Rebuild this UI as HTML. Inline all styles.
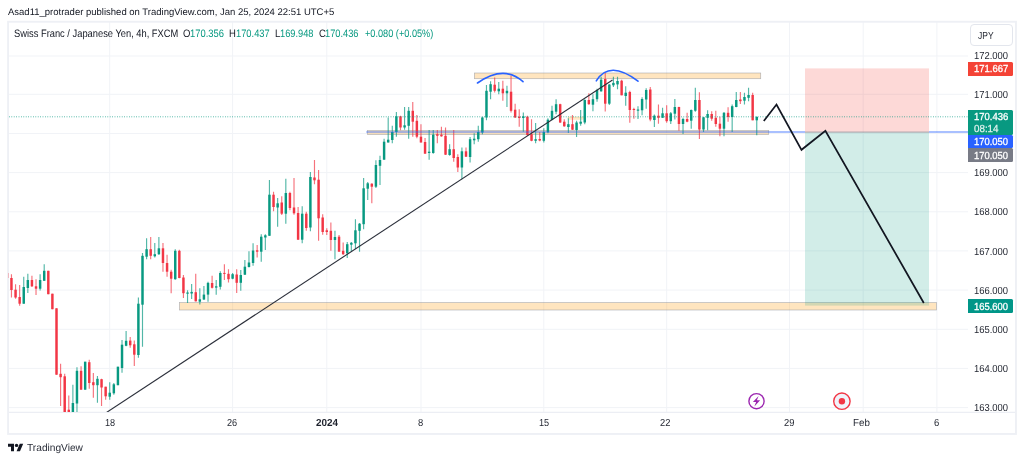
<!DOCTYPE html>
<html lang="en"><head><meta charset="utf-8"><title>CHFJPY chart</title>
<style>
html,body{margin:0;padding:0;background:#fff}
body{width:1024px;height:462px;position:relative;overflow:hidden;font-family:"Liberation Sans",Arial,sans-serif;color:#131722;text-rendering:geometricPrecision}
.t{position:absolute;line-height:11px;height:11px;white-space:nowrap;transform-origin:0 0}
#chart{position:absolute;left:0;top:0}
.tag{position:absolute;left:968px;width:44.8px;border-radius:0 1.5px 1.5px 0}
#cur{position:absolute;left:970.4px;top:24.3px;width:42.2px;height:21.3px;border:1px solid #e3e6ed;border-radius:4px;box-sizing:border-box;background:#fff}
</style></head><body>
<svg id="chart" width="1024" height="462" viewBox="0 0 1024 462">
<defs><clipPath id="cp"><rect x="8.5" y="22" width="959.5" height="390"/></clipPath></defs>

<g stroke="#f1f3f7" stroke-width="1">
<line x1="109.7" y1="22" x2="109.7" y2="412"/>
<line x1="232.6" y1="22" x2="232.6" y2="412"/>
<line x1="326.8" y1="22" x2="326.8" y2="412"/>
<line x1="421.0" y1="22" x2="421.0" y2="412"/>
<line x1="543.8" y1="22" x2="543.8" y2="412"/>
<line x1="666.7" y1="22" x2="666.7" y2="412"/>
<line x1="789.5" y1="22" x2="789.5" y2="412"/>
<line x1="863.2" y1="22" x2="863.2" y2="412"/>
<line x1="936.9" y1="22" x2="936.9" y2="412"/>
<line x1="9" y1="407.6" x2="968" y2="407.6"/>
<line x1="9" y1="368.4" x2="968" y2="368.4"/>
<line x1="9" y1="329.3" x2="968" y2="329.3"/>
<line x1="9" y1="290.1" x2="968" y2="290.1"/>
<line x1="9" y1="250.9" x2="968" y2="250.9"/>
<line x1="9" y1="211.8" x2="968" y2="211.8"/>
<line x1="9" y1="172.6" x2="968" y2="172.6"/>
<line x1="9" y1="133.5" x2="968" y2="133.5"/>
<line x1="9" y1="94.3" x2="968" y2="94.3"/>
<line x1="9" y1="56.0" x2="968" y2="56.0"/>
</g>
<line x1="9" y1="412.45" x2="1015" y2="412.45" stroke="#eceef4" stroke-width="1.3"/>
<rect x="8.08" y="21.75" width="1007.9" height="412.2" fill="none" stroke="#eef0f5" stroke-width="1.9"/>
<g clip-path="url(#cp)">
<rect x="179.5" y="302.6" width="757" height="7.4" fill="#ff9800" fill-opacity="0.25" stroke="#9598a1" stroke-opacity="0.7" stroke-width="0.7"/>
<rect x="474.4" y="73" width="286.3" height="5.7" fill="#ff9800" fill-opacity="0.25" stroke="#9598a1" stroke-opacity="0.7" stroke-width="0.7"/>
<rect x="367.3" y="130.55" width="401.4" height="4.0" fill="#ff9800" fill-opacity="0.25" stroke="#9598a1" stroke-opacity="0.7" stroke-width="0.7"/>
<rect x="568" y="117" width="15.3" height="2.2" fill="#ff9800" fill-opacity="0.2" stroke="#ff9800" stroke-opacity="0.3" stroke-width="0.5"/>
<path d="M7.36 272.0V280.0" stroke="#f23645" stroke-width="1.15" stroke-opacity="0.7"/><rect x="6.14" y="273.0" width="2.45" height="5.0" fill="#f23645"/>
<path d="M11.46 274.2V297.5" stroke="#f23645" stroke-width="1.15" stroke-opacity="0.7"/><rect x="10.23" y="278.0" width="2.45" height="12.0" fill="#f23645"/>
<path d="M15.55 284.2V298.8" stroke="#f23645" stroke-width="1.15" stroke-opacity="0.7"/><rect x="14.33" y="289.7" width="2.45" height="7.8" fill="#f23645"/>
<path d="M19.64 285.0V305.8" stroke="#f23645" stroke-width="1.15" stroke-opacity="0.7"/><rect x="18.43" y="297.0" width="2.45" height="6.7" fill="#f23645"/>
<path d="M23.74 276.7V303.7" stroke="#089981" stroke-width="1.15" stroke-opacity="0.7"/><rect x="22.52" y="287.0" width="2.45" height="16.7" fill="#089981"/>
<path d="M27.83 273.7V293.0" stroke="#089981" stroke-width="1.15" stroke-opacity="0.7"/><rect x="26.61" y="280.0" width="2.45" height="8.0" fill="#089981"/>
<path d="M31.93 275.8V287.0" stroke="#f23645" stroke-width="1.15" stroke-opacity="0.7"/><rect x="30.71" y="280.0" width="2.45" height="6.3" fill="#f23645"/>
<path d="M36.02 279.2V295.0" stroke="#f23645" stroke-width="1.15" stroke-opacity="0.7"/><rect x="34.80" y="286.3" width="2.45" height="2.4" fill="#f23645"/>
<path d="M40.12 274.2V290.5" stroke="#089981" stroke-width="1.15" stroke-opacity="0.7"/><rect x="38.90" y="280.0" width="2.45" height="8.7" fill="#089981"/>
<path d="M44.21 264.2V280.8" stroke="#089981" stroke-width="1.15" stroke-opacity="0.7"/><rect x="42.99" y="270.8" width="2.45" height="10.0" fill="#089981"/>
<path d="M48.31 270.8V294.2" stroke="#f23645" stroke-width="1.15" stroke-opacity="0.7"/><rect x="47.09" y="270.8" width="2.45" height="23.4" fill="#f23645"/>
<path d="M52.40 293.7V309.2" stroke="#f23645" stroke-width="1.15" stroke-opacity="0.7"/><rect x="51.18" y="293.7" width="2.45" height="15.5" fill="#f23645"/>
<path d="M56.50 308.3V374.7" stroke="#f23645" stroke-width="1.15" stroke-opacity="0.7"/><rect x="55.28" y="308.3" width="2.45" height="66.4" fill="#f23645"/>
<path d="M60.59 363.8V406.0" stroke="#f23645" stroke-width="1.15" stroke-opacity="0.7"/><rect x="59.38" y="373.8" width="2.45" height="3.4" fill="#f23645"/>
<path d="M64.69 373.8V413.0" stroke="#f23645" stroke-width="1.15" stroke-opacity="0.7"/><rect x="63.47" y="376.3" width="2.45" height="36.7" fill="#f23645"/>
<path d="M68.78 395.5V413.0" stroke="#f23645" stroke-width="1.15" stroke-opacity="0.7"/><rect x="67.56" y="409.7" width="2.45" height="3.3" fill="#f23645"/>
<path d="M72.88 384.7V413.0" stroke="#089981" stroke-width="1.15" stroke-opacity="0.7"/><rect x="71.66" y="403.0" width="2.45" height="10.0" fill="#089981"/>
<path d="M76.97 367.2V413.0" stroke="#089981" stroke-width="1.15" stroke-opacity="0.7"/><rect x="75.75" y="370.8" width="2.45" height="32.7" fill="#089981"/>
<path d="M81.07 366.3V389.7" stroke="#f23645" stroke-width="1.15" stroke-opacity="0.7"/><rect x="79.85" y="370.8" width="2.45" height="18.9" fill="#f23645"/>
<path d="M85.16 361.7V389.7" stroke="#089981" stroke-width="1.15" stroke-opacity="0.7"/><rect x="83.94" y="361.7" width="2.45" height="28.0" fill="#089981"/>
<path d="M89.26 359.7V388.8" stroke="#f23645" stroke-width="1.15" stroke-opacity="0.7"/><rect x="88.04" y="362.2" width="2.45" height="20.8" fill="#f23645"/>
<path d="M93.35 373.0V397.7" stroke="#f23645" stroke-width="1.15" stroke-opacity="0.7"/><rect x="92.13" y="382.2" width="2.45" height="3.0" fill="#f23645"/>
<path d="M97.45 376.0V402.7" stroke="#089981" stroke-width="1.15" stroke-opacity="0.7"/><rect x="96.23" y="378.8" width="2.45" height="6.4" fill="#089981"/>
<path d="M101.54 378.8V406.0" stroke="#f23645" stroke-width="1.15" stroke-opacity="0.7"/><rect x="100.32" y="379.2" width="2.45" height="8.3" fill="#f23645"/>
<path d="M105.64 386.7V399.7" stroke="#f23645" stroke-width="1.15" stroke-opacity="0.7"/><rect x="104.42" y="386.7" width="2.45" height="9.6" fill="#f23645"/>
<path d="M109.73 382.2V399.7" stroke="#089981" stroke-width="1.15" stroke-opacity="0.7"/><rect x="108.52" y="392.7" width="2.45" height="4.0" fill="#089981"/>
<path d="M113.83 383.0V394.7" stroke="#089981" stroke-width="1.15" stroke-opacity="0.7"/><rect x="112.61" y="384.3" width="2.45" height="9.0" fill="#089981"/>
<path d="M117.92 366.7V385.2" stroke="#089981" stroke-width="1.15" stroke-opacity="0.7"/><rect x="116.70" y="366.7" width="2.45" height="18.5" fill="#089981"/>
<path d="M122.02 340.0V372.7" stroke="#089981" stroke-width="1.15" stroke-opacity="0.7"/><rect x="120.80" y="344.7" width="2.45" height="23.3" fill="#089981"/>
<path d="M126.11 331.0V346.2" stroke="#089981" stroke-width="1.15" stroke-opacity="0.7"/><rect x="124.89" y="340.8" width="2.45" height="5.0" fill="#089981"/>
<path d="M130.21 336.9V347.7" stroke="#f23645" stroke-width="1.15" stroke-opacity="0.7"/><rect x="128.99" y="340.6" width="2.45" height="4.7" fill="#f23645"/>
<path d="M134.31 340.5V366.0" stroke="#f23645" stroke-width="1.15" stroke-opacity="0.7"/><rect x="133.09" y="344.3" width="2.45" height="10.4" fill="#f23645"/>
<path d="M138.40 297.5V357.7" stroke="#089981" stroke-width="1.15" stroke-opacity="0.7"/><rect x="137.18" y="303.7" width="2.45" height="51.3" fill="#089981"/>
<path d="M142.50 253.0V346.7" stroke="#089981" stroke-width="1.15" stroke-opacity="0.7"/><rect x="141.28" y="255.8" width="2.45" height="48.9" fill="#089981"/>
<path d="M146.59 238.3V259.2" stroke="#089981" stroke-width="1.15" stroke-opacity="0.7"/><rect x="145.37" y="249.2" width="2.45" height="7.5" fill="#089981"/>
<path d="M150.69 237.0V259.2" stroke="#f23645" stroke-width="1.15" stroke-opacity="0.7"/><rect x="149.47" y="249.2" width="2.45" height="6.6" fill="#f23645"/>
<path d="M154.78 243.0V257.5" stroke="#089981" stroke-width="1.15" stroke-opacity="0.7"/><rect x="153.56" y="254.2" width="2.45" height="2.1" fill="#089981"/>
<path d="M158.88 237.0V255.0" stroke="#089981" stroke-width="1.15" stroke-opacity="0.7"/><rect x="157.66" y="248.3" width="2.45" height="5.9" fill="#089981"/>
<path d="M162.97 243.0V271.7" stroke="#f23645" stroke-width="1.15" stroke-opacity="0.7"/><rect x="161.75" y="248.3" width="2.45" height="14.7" fill="#f23645"/>
<path d="M167.06 254.7V276.7" stroke="#f23645" stroke-width="1.15" stroke-opacity="0.7"/><rect x="165.84" y="263.0" width="2.45" height="8.7" fill="#f23645"/>
<path d="M171.16 269.7V293.3" stroke="#f23645" stroke-width="1.15" stroke-opacity="0.7"/><rect x="169.94" y="271.7" width="2.45" height="7.0" fill="#f23645"/>
<path d="M175.25 249.2V279.7" stroke="#089981" stroke-width="1.15" stroke-opacity="0.7"/><rect x="174.03" y="250.8" width="2.45" height="28.4" fill="#089981"/>
<path d="M179.35 249.7V278.3" stroke="#f23645" stroke-width="1.15" stroke-opacity="0.7"/><rect x="178.13" y="250.8" width="2.45" height="27.2" fill="#f23645"/>
<path d="M183.44 275.0V298.1" stroke="#f23645" stroke-width="1.15" stroke-opacity="0.7"/><rect x="182.22" y="277.5" width="2.45" height="15.7" fill="#f23645"/>
<path d="M187.54 290.3V302.9" stroke="#089981" stroke-width="1.15" stroke-opacity="0.7"/><rect x="186.32" y="292.5" width="2.45" height="1.2" fill="#089981"/>
<path d="M191.63 284.1V299.0" stroke="#089981" stroke-width="1.15" stroke-opacity="0.7"/><rect x="190.41" y="291.9" width="2.45" height="1.6" fill="#089981"/>
<path d="M195.73 273.7V301.5" stroke="#f23645" stroke-width="1.15" stroke-opacity="0.7"/><rect x="194.51" y="292.2" width="2.45" height="9.1" fill="#f23645"/>
<path d="M199.82 288.3V304.4" stroke="#089981" stroke-width="1.15" stroke-opacity="0.7"/><rect x="198.60" y="299.3" width="2.45" height="2.4" fill="#089981"/>
<path d="M203.92 285.9V300.0" stroke="#089981" stroke-width="1.15" stroke-opacity="0.7"/><rect x="202.70" y="294.6" width="2.45" height="4.9" fill="#089981"/>
<path d="M208.02 281.8V301.7" stroke="#089981" stroke-width="1.15" stroke-opacity="0.7"/><rect x="206.80" y="282.9" width="2.45" height="11.7" fill="#089981"/>
<path d="M212.11 275.8V288.6" stroke="#f23645" stroke-width="1.15" stroke-opacity="0.7"/><rect x="210.89" y="283.0" width="2.45" height="4.8" fill="#f23645"/>
<path d="M216.21 280.0V294.8" stroke="#089981" stroke-width="1.15" stroke-opacity="0.7"/><rect x="214.99" y="286.3" width="2.45" height="1.3" fill="#089981"/>
<path d="M220.30 271.3V289.6" stroke="#089981" stroke-width="1.15" stroke-opacity="0.7"/><rect x="219.08" y="273.0" width="2.45" height="13.8" fill="#089981"/>
<path d="M224.40 264.2V280.0" stroke="#f23645" stroke-width="1.15" stroke-opacity="0.7"/><rect x="223.18" y="272.9" width="2.45" height="1.0" fill="#f23645"/>
<path d="M228.49 269.2V282.5" stroke="#f23645" stroke-width="1.15" stroke-opacity="0.7"/><rect x="227.27" y="273.8" width="2.45" height="5.4" fill="#f23645"/>
<path d="M232.59 273.0V279.2" stroke="#089981" stroke-width="1.15" stroke-opacity="0.7"/><rect x="231.37" y="274.2" width="2.45" height="4.5" fill="#089981"/>
<path d="M236.68 269.2V293.0" stroke="#f23645" stroke-width="1.15" stroke-opacity="0.7"/><rect x="235.46" y="274.5" width="2.45" height="8.3" fill="#f23645"/>
<path d="M240.78 270.0V290.8" stroke="#089981" stroke-width="1.15" stroke-opacity="0.7"/><rect x="239.56" y="275.0" width="2.45" height="7.8" fill="#089981"/>
<path d="M244.87 260.0V275.0" stroke="#089981" stroke-width="1.15" stroke-opacity="0.7"/><rect x="243.65" y="266.7" width="2.45" height="8.0" fill="#089981"/>
<path d="M248.97 251.3V267.5" stroke="#089981" stroke-width="1.15" stroke-opacity="0.7"/><rect x="247.75" y="262.5" width="2.45" height="4.5" fill="#089981"/>
<path d="M253.06 243.3V265.8" stroke="#089981" stroke-width="1.15" stroke-opacity="0.7"/><rect x="251.84" y="250.5" width="2.45" height="12.5" fill="#089981"/>
<path d="M257.15 245.0V257.5" stroke="#f23645" stroke-width="1.15" stroke-opacity="0.7"/><rect x="255.93" y="250.3" width="2.45" height="1.4" fill="#f23645"/>
<path d="M261.25 234.2V261.7" stroke="#089981" stroke-width="1.15" stroke-opacity="0.7"/><rect x="260.03" y="236.7" width="2.45" height="15.0" fill="#089981"/>
<path d="M265.34 234.2V250.0" stroke="#089981" stroke-width="1.15" stroke-opacity="0.7"/><rect x="264.12" y="235.3" width="2.45" height="2.2" fill="#089981"/>
<path d="M269.44 180.0V235.8" stroke="#089981" stroke-width="1.15" stroke-opacity="0.7"/><rect x="268.22" y="194.7" width="2.45" height="41.1" fill="#089981"/>
<path d="M273.54 191.7V211.3" stroke="#f23645" stroke-width="1.15" stroke-opacity="0.7"/><rect x="272.31" y="194.7" width="2.45" height="12.3" fill="#f23645"/>
<path d="M277.63 198.0V226.7" stroke="#089981" stroke-width="1.15" stroke-opacity="0.7"/><rect x="276.41" y="203.3" width="2.45" height="4.2" fill="#089981"/>
<path d="M281.73 196.3V215.0" stroke="#f23645" stroke-width="1.15" stroke-opacity="0.7"/><rect x="280.50" y="202.5" width="2.45" height="11.2" fill="#f23645"/>
<path d="M285.82 178.7V223.7" stroke="#089981" stroke-width="1.15" stroke-opacity="0.7"/><rect x="284.60" y="193.0" width="2.45" height="20.7" fill="#089981"/>
<path d="M289.92 191.7V210.3" stroke="#f23645" stroke-width="1.15" stroke-opacity="0.7"/><rect x="288.69" y="193.0" width="2.45" height="15.0" fill="#f23645"/>
<path d="M294.01 178.0V214.7" stroke="#f23645" stroke-width="1.15" stroke-opacity="0.7"/><rect x="292.79" y="207.5" width="2.45" height="5.8" fill="#f23645"/>
<path d="M298.11 207.0V240.0" stroke="#f23645" stroke-width="1.15" stroke-opacity="0.7"/><rect x="296.88" y="213.0" width="2.45" height="26.7" fill="#f23645"/>
<path d="M302.20 206.3V243.3" stroke="#089981" stroke-width="1.15" stroke-opacity="0.7"/><rect x="300.98" y="213.7" width="2.45" height="26.0" fill="#089981"/>
<path d="M306.30 211.7V230.8" stroke="#f23645" stroke-width="1.15" stroke-opacity="0.7"/><rect x="305.07" y="213.7" width="2.45" height="14.3" fill="#f23645"/>
<path d="M310.39 172.0V231.3" stroke="#089981" stroke-width="1.15" stroke-opacity="0.7"/><rect x="309.17" y="177.0" width="2.45" height="50.5" fill="#089981"/>
<path d="M314.49 160.0V184.2" stroke="#f23645" stroke-width="1.15" stroke-opacity="0.7"/><rect x="313.26" y="177.5" width="2.45" height="2.8" fill="#f23645"/>
<path d="M318.58 170.0V240.8" stroke="#f23645" stroke-width="1.15" stroke-opacity="0.7"/><rect x="317.36" y="179.7" width="2.45" height="38.6" fill="#f23645"/>
<path d="M322.68 214.2V234.7" stroke="#f23645" stroke-width="1.15" stroke-opacity="0.7"/><rect x="321.45" y="217.5" width="2.45" height="14.5" fill="#f23645"/>
<path d="M326.77 228.3V235.0" stroke="#f23645" stroke-width="1.15" stroke-opacity="0.7"/><rect x="325.55" y="230.3" width="2.45" height="1.7" fill="#f23645"/>
<path d="M330.87 222.5V250.8" stroke="#f23645" stroke-width="1.15" stroke-opacity="0.7"/><rect x="329.64" y="230.8" width="2.45" height="9.2" fill="#f23645"/>
<path d="M334.96 230.8V259.2" stroke="#089981" stroke-width="1.15" stroke-opacity="0.7"/><rect x="333.74" y="237.0" width="2.45" height="3.0" fill="#089981"/>
<path d="M339.06 235.0V251.7" stroke="#f23645" stroke-width="1.15" stroke-opacity="0.7"/><rect x="337.83" y="236.7" width="2.45" height="15.0" fill="#f23645"/>
<path d="M343.15 242.5V255.0" stroke="#f23645" stroke-width="1.15" stroke-opacity="0.7"/><rect x="341.93" y="250.8" width="2.45" height="3.4" fill="#f23645"/>
<path d="M347.25 242.0V258.0" stroke="#089981" stroke-width="1.15" stroke-opacity="0.7"/><rect x="346.02" y="244.2" width="2.45" height="9.1" fill="#089981"/>
<path d="M351.34 242.0V251.7" stroke="#089981" stroke-width="1.15" stroke-opacity="0.7"/><rect x="350.12" y="242.8" width="2.45" height="1.9" fill="#089981"/>
<path d="M355.44 219.2V249.2" stroke="#089981" stroke-width="1.15" stroke-opacity="0.7"/><rect x="354.21" y="230.3" width="2.45" height="13.0" fill="#089981"/>
<path d="M359.53 223.0V251.7" stroke="#089981" stroke-width="1.15" stroke-opacity="0.7"/><rect x="358.31" y="223.7" width="2.45" height="7.1" fill="#089981"/>
<path d="M363.62 178.0V229.2" stroke="#089981" stroke-width="1.15" stroke-opacity="0.7"/><rect x="362.40" y="188.3" width="2.45" height="35.9" fill="#089981"/>
<path d="M367.72 182.0V200.0" stroke="#089981" stroke-width="1.15" stroke-opacity="0.7"/><rect x="366.50" y="183.3" width="2.45" height="5.4" fill="#089981"/>
<path d="M371.81 183.3V203.3" stroke="#f23645" stroke-width="1.15" stroke-opacity="0.7"/><rect x="370.59" y="183.7" width="2.45" height="3.0" fill="#f23645"/>
<path d="M375.91 160.3V188.0" stroke="#089981" stroke-width="1.15" stroke-opacity="0.7"/><rect x="374.69" y="165.0" width="2.45" height="21.7" fill="#089981"/>
<path d="M380.00 155.8V185.0" stroke="#089981" stroke-width="1.15" stroke-opacity="0.7"/><rect x="378.78" y="160.0" width="2.45" height="5.8" fill="#089981"/>
<path d="M384.10 138.7V159.7" stroke="#089981" stroke-width="1.15" stroke-opacity="0.7"/><rect x="382.88" y="141.7" width="2.45" height="18.0" fill="#089981"/>
<path d="M388.19 117.5V142.5" stroke="#089981" stroke-width="1.15" stroke-opacity="0.7"/><rect x="386.97" y="139.7" width="2.45" height="2.8" fill="#089981"/>
<path d="M392.29 125.8V143.3" stroke="#089981" stroke-width="1.15" stroke-opacity="0.7"/><rect x="391.07" y="132.0" width="2.45" height="8.0" fill="#089981"/>
<path d="M396.38 112.0V136.7" stroke="#089981" stroke-width="1.15" stroke-opacity="0.7"/><rect x="395.16" y="116.3" width="2.45" height="15.7" fill="#089981"/>
<path d="M400.48 115.8V130.3" stroke="#f23645" stroke-width="1.15" stroke-opacity="0.7"/><rect x="399.26" y="116.3" width="2.45" height="11.2" fill="#f23645"/>
<path d="M404.57 107.0V129.7" stroke="#089981" stroke-width="1.15" stroke-opacity="0.7"/><rect x="403.35" y="125.3" width="2.45" height="2.2" fill="#089981"/>
<path d="M408.67 107.0V138.7" stroke="#089981" stroke-width="1.15" stroke-opacity="0.7"/><rect x="407.45" y="110.8" width="2.45" height="15.0" fill="#089981"/>
<path d="M412.76 102.0V136.7" stroke="#f23645" stroke-width="1.15" stroke-opacity="0.7"/><rect x="411.54" y="110.8" width="2.45" height="10.9" fill="#f23645"/>
<path d="M416.86 115.0V138.3" stroke="#f23645" stroke-width="1.15" stroke-opacity="0.7"/><rect x="415.64" y="120.8" width="2.45" height="15.9" fill="#f23645"/>
<path d="M420.95 124.2V142.5" stroke="#f23645" stroke-width="1.15" stroke-opacity="0.7"/><rect x="419.73" y="136.7" width="2.45" height="5.8" fill="#f23645"/>
<path d="M425.05 138.0V153.7" stroke="#f23645" stroke-width="1.15" stroke-opacity="0.7"/><rect x="423.83" y="142.0" width="2.45" height="11.7" fill="#f23645"/>
<path d="M429.14 130.0V159.7" stroke="#089981" stroke-width="1.15" stroke-opacity="0.7"/><rect x="427.92" y="151.7" width="2.45" height="1.3" fill="#089981"/>
<path d="M433.24 130.0V153.7" stroke="#089981" stroke-width="1.15" stroke-opacity="0.7"/><rect x="432.02" y="134.7" width="2.45" height="18.3" fill="#089981"/>
<path d="M437.33 130.0V143.3" stroke="#f23645" stroke-width="1.15" stroke-opacity="0.7"/><rect x="436.11" y="134.2" width="2.45" height="1.6" fill="#f23645"/>
<path d="M441.43 126.7V136.7" stroke="#f23645" stroke-width="1.15" stroke-opacity="0.7"/><rect x="440.21" y="134.7" width="2.45" height="1.6" fill="#f23645"/>
<path d="M445.52 127.5V155.0" stroke="#f23645" stroke-width="1.15" stroke-opacity="0.7"/><rect x="444.30" y="135.8" width="2.45" height="18.9" fill="#f23645"/>
<path d="M449.62 144.2V155.8" stroke="#089981" stroke-width="1.15" stroke-opacity="0.7"/><rect x="448.40" y="149.2" width="2.45" height="5.8" fill="#089981"/>
<path d="M453.71 130.0V161.7" stroke="#f23645" stroke-width="1.15" stroke-opacity="0.7"/><rect x="452.49" y="149.2" width="2.45" height="8.8" fill="#f23645"/>
<path d="M457.81 154.2V172.0" stroke="#f23645" stroke-width="1.15" stroke-opacity="0.7"/><rect x="456.59" y="157.0" width="2.45" height="10.5" fill="#f23645"/>
<path d="M461.90 147.5V179.2" stroke="#089981" stroke-width="1.15" stroke-opacity="0.7"/><rect x="460.68" y="151.3" width="2.45" height="16.2" fill="#089981"/>
<path d="M466.00 147.5V157.0" stroke="#f23645" stroke-width="1.15" stroke-opacity="0.7"/><rect x="464.78" y="151.3" width="2.45" height="5.4" fill="#f23645"/>
<path d="M470.09 137.0V162.5" stroke="#089981" stroke-width="1.15" stroke-opacity="0.7"/><rect x="468.87" y="139.2" width="2.45" height="17.8" fill="#089981"/>
<path d="M474.19 133.3V144.2" stroke="#089981" stroke-width="1.15" stroke-opacity="0.7"/><rect x="472.97" y="138.7" width="2.45" height="1.6" fill="#089981"/>
<path d="M478.28 125.8V141.7" stroke="#089981" stroke-width="1.15" stroke-opacity="0.7"/><rect x="477.06" y="132.0" width="2.45" height="7.2" fill="#089981"/>
<path d="M482.38 116.7V134.2" stroke="#089981" stroke-width="1.15" stroke-opacity="0.7"/><rect x="481.16" y="117.5" width="2.45" height="15.0" fill="#089981"/>
<path d="M486.47 85.0V120.3" stroke="#089981" stroke-width="1.15" stroke-opacity="0.7"/><rect x="485.25" y="90.8" width="2.45" height="26.7" fill="#089981"/>
<path d="M490.57 81.3V99.2" stroke="#089981" stroke-width="1.15" stroke-opacity="0.7"/><rect x="489.35" y="84.2" width="2.45" height="7.5" fill="#089981"/>
<path d="M494.66 77.5V92.5" stroke="#f23645" stroke-width="1.15" stroke-opacity="0.7"/><rect x="493.44" y="84.7" width="2.45" height="6.1" fill="#f23645"/>
<path d="M498.76 82.0V94.2" stroke="#089981" stroke-width="1.15" stroke-opacity="0.7"/><rect x="497.54" y="88.7" width="2.45" height="2.6" fill="#089981"/>
<path d="M502.85 80.8V100.8" stroke="#f23645" stroke-width="1.15" stroke-opacity="0.7"/><rect x="501.63" y="88.7" width="2.45" height="4.6" fill="#f23645"/>
<path d="M506.95 85.8V107.0" stroke="#089981" stroke-width="1.15" stroke-opacity="0.7"/><rect x="505.73" y="90.8" width="2.45" height="2.5" fill="#089981"/>
<path d="M511.04 75.8V112.5" stroke="#f23645" stroke-width="1.15" stroke-opacity="0.7"/><rect x="509.82" y="91.7" width="2.45" height="19.1" fill="#f23645"/>
<path d="M515.14 103.7V118.0" stroke="#f23645" stroke-width="1.15" stroke-opacity="0.7"/><rect x="513.92" y="109.7" width="2.45" height="7.8" fill="#f23645"/>
<path d="M519.23 109.2V126.7" stroke="#f23645" stroke-width="1.15" stroke-opacity="0.7"/><rect x="518.01" y="116.7" width="2.45" height="1.3" fill="#f23645"/>
<path d="M523.33 112.5V131.7" stroke="#089981" stroke-width="1.15" stroke-opacity="0.7"/><rect x="522.11" y="116.3" width="2.45" height="1.7" fill="#089981"/>
<path d="M527.42 115.8V135.8" stroke="#f23645" stroke-width="1.15" stroke-opacity="0.7"/><rect x="526.20" y="116.7" width="2.45" height="18.3" fill="#f23645"/>
<path d="M531.52 119.2V141.3" stroke="#f23645" stroke-width="1.15" stroke-opacity="0.7"/><rect x="530.30" y="134.2" width="2.45" height="6.6" fill="#f23645"/>
<path d="M535.62 123.0V143.3" stroke="#089981" stroke-width="1.15" stroke-opacity="0.7"/><rect x="534.39" y="139.2" width="2.45" height="1.6" fill="#089981"/>
<path d="M539.71 132.0V141.3" stroke="#f23645" stroke-width="1.15" stroke-opacity="0.7"/><rect x="538.49" y="139.0" width="2.45" height="1.5" fill="#f23645"/>
<path d="M543.80 128.3V142.5" stroke="#089981" stroke-width="1.15" stroke-opacity="0.7"/><rect x="542.58" y="132.0" width="2.45" height="8.8" fill="#089981"/>
<path d="M547.90 118.3V133.3" stroke="#089981" stroke-width="1.15" stroke-opacity="0.7"/><rect x="546.68" y="119.7" width="2.45" height="12.6" fill="#089981"/>
<path d="M552.00 105.8V120.3" stroke="#089981" stroke-width="1.15" stroke-opacity="0.7"/><rect x="550.77" y="110.8" width="2.45" height="9.2" fill="#089981"/>
<path d="M556.09 99.2V114.2" stroke="#089981" stroke-width="1.15" stroke-opacity="0.7"/><rect x="554.87" y="104.2" width="2.45" height="7.5" fill="#089981"/>
<path d="M560.18 103.7V123.0" stroke="#f23645" stroke-width="1.15" stroke-opacity="0.7"/><rect x="558.96" y="104.2" width="2.45" height="18.3" fill="#f23645"/>
<path d="M564.28 119.2V126.7" stroke="#f23645" stroke-width="1.15" stroke-opacity="0.7"/><rect x="563.06" y="121.7" width="2.45" height="4.6" fill="#f23645"/>
<path d="M568.38 118.3V133.0" stroke="#089981" stroke-width="1.15" stroke-opacity="0.7"/><rect x="567.15" y="124.2" width="2.45" height="2.8" fill="#089981"/>
<path d="M572.47 115.0V130.0" stroke="#f23645" stroke-width="1.15" stroke-opacity="0.7"/><rect x="571.25" y="124.2" width="2.45" height="5.5" fill="#f23645"/>
<path d="M576.56 120.8V137.0" stroke="#089981" stroke-width="1.15" stroke-opacity="0.7"/><rect x="575.34" y="122.5" width="2.45" height="7.5" fill="#089981"/>
<path d="M580.66 110.0V125.8" stroke="#089981" stroke-width="1.15" stroke-opacity="0.7"/><rect x="579.44" y="121.7" width="2.45" height="2.0" fill="#089981"/>
<path d="M584.75 99.2V124.2" stroke="#089981" stroke-width="1.15" stroke-opacity="0.7"/><rect x="583.53" y="100.0" width="2.45" height="22.5" fill="#089981"/>
<path d="M588.85 93.3V104.7" stroke="#f23645" stroke-width="1.15" stroke-opacity="0.7"/><rect x="587.63" y="100.0" width="2.45" height="4.2" fill="#f23645"/>
<path d="M592.94 94.2V111.3" stroke="#089981" stroke-width="1.15" stroke-opacity="0.7"/><rect x="591.72" y="99.2" width="2.45" height="5.5" fill="#089981"/>
<path d="M597.04 88.7V101.7" stroke="#089981" stroke-width="1.15" stroke-opacity="0.7"/><rect x="595.82" y="90.0" width="2.45" height="9.2" fill="#089981"/>
<path d="M601.13 76.7V91.7" stroke="#089981" stroke-width="1.15" stroke-opacity="0.7"/><rect x="599.91" y="79.7" width="2.45" height="11.6" fill="#089981"/>
<path d="M605.23 73.0V111.5" stroke="#f23645" stroke-width="1.15" stroke-opacity="0.7"/><rect x="604.01" y="79.0" width="2.45" height="24.7" fill="#f23645"/>
<path d="M609.32 84.0V105.0" stroke="#089981" stroke-width="1.15" stroke-opacity="0.7"/><rect x="608.10" y="84.6" width="2.45" height="19.1" fill="#089981"/>
<path d="M613.42 76.7V87.0" stroke="#089981" stroke-width="1.15" stroke-opacity="0.7"/><rect x="612.20" y="82.9" width="2.45" height="2.4" fill="#089981"/>
<path d="M617.51 76.7V89.3" stroke="#089981" stroke-width="1.15" stroke-opacity="0.7"/><rect x="616.29" y="81.0" width="2.45" height="3.4" fill="#089981"/>
<path d="M621.61 79.8V95.3" stroke="#f23645" stroke-width="1.15" stroke-opacity="0.7"/><rect x="620.39" y="80.7" width="2.45" height="14.6" fill="#f23645"/>
<path d="M625.70 86.2V105.7" stroke="#089981" stroke-width="1.15" stroke-opacity="0.7"/><rect x="624.48" y="92.7" width="2.45" height="3.3" fill="#089981"/>
<path d="M629.80 90.7V122.8" stroke="#f23645" stroke-width="1.15" stroke-opacity="0.7"/><rect x="628.58" y="92.0" width="2.45" height="18.0" fill="#f23645"/>
<path d="M633.89 107.8V118.7" stroke="#f23645" stroke-width="1.15" stroke-opacity="0.7"/><rect x="632.67" y="109.0" width="2.45" height="1.0" fill="#f23645"/>
<path d="M637.99 106.2V119.0" stroke="#089981" stroke-width="1.15" stroke-opacity="0.7"/><rect x="636.77" y="109.5" width="2.45" height="1.2" fill="#089981"/>
<path d="M642.08 97.3V115.3" stroke="#089981" stroke-width="1.15" stroke-opacity="0.7"/><rect x="640.86" y="99.0" width="2.45" height="11.3" fill="#089981"/>
<path d="M646.18 88.3V108.7" stroke="#089981" stroke-width="1.15" stroke-opacity="0.7"/><rect x="644.96" y="90.0" width="2.45" height="9.5" fill="#089981"/>
<path d="M650.27 87.0V121.2" stroke="#f23645" stroke-width="1.15" stroke-opacity="0.7"/><rect x="649.05" y="89.5" width="2.45" height="30.0" fill="#f23645"/>
<path d="M654.37 114.5V127.0" stroke="#089981" stroke-width="1.15" stroke-opacity="0.7"/><rect x="653.15" y="115.7" width="2.45" height="4.3" fill="#089981"/>
<path d="M658.46 104.5V123.7" stroke="#f23645" stroke-width="1.15" stroke-opacity="0.7"/><rect x="657.24" y="115.7" width="2.45" height="2.1" fill="#f23645"/>
<path d="M662.56 107.8V117.8" stroke="#089981" stroke-width="1.15" stroke-opacity="0.7"/><rect x="661.34" y="113.3" width="2.45" height="4.5" fill="#089981"/>
<path d="M666.65 105.3V122.8" stroke="#f23645" stroke-width="1.15" stroke-opacity="0.7"/><rect x="665.43" y="113.3" width="2.45" height="7.9" fill="#f23645"/>
<path d="M670.75 112.0V124.0" stroke="#089981" stroke-width="1.15" stroke-opacity="0.7"/><rect x="669.53" y="113.3" width="2.45" height="7.9" fill="#089981"/>
<path d="M674.85 99.0V119.5" stroke="#089981" stroke-width="1.15" stroke-opacity="0.7"/><rect x="673.62" y="107.0" width="2.45" height="6.7" fill="#089981"/>
<path d="M678.94 106.7V130.7" stroke="#f23645" stroke-width="1.15" stroke-opacity="0.7"/><rect x="677.72" y="107.0" width="2.45" height="17.0" fill="#f23645"/>
<path d="M683.03 117.8V134.0" stroke="#089981" stroke-width="1.15" stroke-opacity="0.7"/><rect x="681.81" y="119.0" width="2.45" height="5.0" fill="#089981"/>
<path d="M687.13 112.8V122.3" stroke="#f23645" stroke-width="1.15" stroke-opacity="0.7"/><rect x="685.91" y="119.0" width="2.45" height="2.7" fill="#f23645"/>
<path d="M691.23 109.5V128.7" stroke="#089981" stroke-width="1.15" stroke-opacity="0.7"/><rect x="690.00" y="110.0" width="2.45" height="10.7" fill="#089981"/>
<path d="M695.32 87.8V111.7" stroke="#089981" stroke-width="1.15" stroke-opacity="0.7"/><rect x="694.10" y="100.0" width="2.45" height="10.7" fill="#089981"/>
<path d="M699.41 92.3V139.0" stroke="#f23645" stroke-width="1.15" stroke-opacity="0.7"/><rect x="698.19" y="100.0" width="2.45" height="29.5" fill="#f23645"/>
<path d="M703.51 117.0V132.0" stroke="#089981" stroke-width="1.15" stroke-opacity="0.7"/><rect x="702.29" y="117.3" width="2.45" height="12.2" fill="#089981"/>
<path d="M707.61 110.3V130.3" stroke="#089981" stroke-width="1.15" stroke-opacity="0.7"/><rect x="706.38" y="114.0" width="2.45" height="3.8" fill="#089981"/>
<path d="M711.70 111.2V120.7" stroke="#f23645" stroke-width="1.15" stroke-opacity="0.7"/><rect x="710.48" y="114.0" width="2.45" height="4.7" fill="#f23645"/>
<path d="M715.79 110.7V126.7" stroke="#f23645" stroke-width="1.15" stroke-opacity="0.7"/><rect x="714.57" y="117.8" width="2.45" height="6.2" fill="#f23645"/>
<path d="M719.89 116.7V136.2" stroke="#f23645" stroke-width="1.15" stroke-opacity="0.7"/><rect x="718.67" y="123.7" width="2.45" height="5.0" fill="#f23645"/>
<path d="M723.99 112.0V136.2" stroke="#089981" stroke-width="1.15" stroke-opacity="0.7"/><rect x="722.76" y="112.8" width="2.45" height="15.9" fill="#089981"/>
<path d="M728.08 107.3V121.7" stroke="#f23645" stroke-width="1.15" stroke-opacity="0.7"/><rect x="726.86" y="112.8" width="2.45" height="4.2" fill="#f23645"/>
<path d="M732.17 104.5V132.0" stroke="#089981" stroke-width="1.15" stroke-opacity="0.7"/><rect x="730.95" y="106.2" width="2.45" height="10.8" fill="#089981"/>
<path d="M736.27 92.0V107.3" stroke="#089981" stroke-width="1.15" stroke-opacity="0.7"/><rect x="735.05" y="100.0" width="2.45" height="7.0" fill="#089981"/>
<path d="M740.37 92.0V104.0" stroke="#f23645" stroke-width="1.15" stroke-opacity="0.7"/><rect x="739.14" y="99.5" width="2.45" height="1.7" fill="#f23645"/>
<path d="M744.46 92.8V104.5" stroke="#089981" stroke-width="1.15" stroke-opacity="0.7"/><rect x="743.24" y="97.0" width="2.45" height="3.7" fill="#089981"/>
<path d="M748.55 87.8V101.2" stroke="#089981" stroke-width="1.15" stroke-opacity="0.7"/><rect x="747.33" y="95.0" width="2.45" height="2.8" fill="#089981"/>
<path d="M752.65 92.8V120.3" stroke="#f23645" stroke-width="1.15" stroke-opacity="0.7"/><rect x="751.43" y="95.0" width="2.45" height="25.3" fill="#f23645"/>
<path d="M756.75 116.2V135.3" stroke="#089981" stroke-width="1.15" stroke-opacity="0.7"/><rect x="755.52" y="117.0" width="2.45" height="3.3" fill="#089981"/>
<path d="M366.3 132.05H805M929 132.05H968" stroke="#2962ff" stroke-opacity="0.4" stroke-width="1.9" fill="none"/>
<rect x="805" y="68.4" width="124" height="63.9" fill="#f44336" fill-opacity="0.2"/>
<rect x="805" y="132.3" width="124" height="173.3" fill="#089981" fill-opacity="0.18"/>
<line x1="805" y1="132.1" x2="929" y2="132.1" stroke="#8a8d96" stroke-opacity="0.6" stroke-width="1.4"/>
<line x1="9" y1="116.8" x2="968" y2="116.8" stroke="#089981" stroke-width="1" stroke-dasharray="0.8 1.6" stroke-opacity="0.8"/>
<line x1="100" y1="416.75" x2="612.5" y2="80" stroke="#2a2e39" stroke-width="1.1"/>
<path d="M477.5 83 Q504 64.5 523 81.7" fill="none" stroke="#2962ff" stroke-width="1.6" stroke-linecap="round"/>
<path d="M596.3 80.8 Q609.5 59.5 638 81.2" fill="none" stroke="#2962ff" stroke-width="1.6" stroke-linecap="round"/>
<path d="M763.8 121 L776.5 104.5 L801.5 149.8 L825.4 130.7 L923.8 303" fill="none" stroke="#131722" stroke-width="1.75" stroke-linejoin="miter"/>
<g><circle cx="756.5" cy="401.2" r="7.6" fill="#fff" stroke="#9c27b0" stroke-width="1.4"/><path d="M758.6 395.9 L752.9 402.1 L756.1 402.1 L754.4 406.5 L760.1 400.3 L756.9 400.3 Z" fill="#9c27b0"/></g>
<g><circle cx="841.9" cy="401.2" r="8.2" fill="#f0f3fa" stroke="#f23645" stroke-width="1.4"/><circle cx="841.9" cy="401.2" r="3.2" fill="#f23645"/></g>
</g>
<g transform="translate(8,442.1) scale(0.428,0.415)" fill="#131722"><path d="M14 22H7V11H0V4h14v18zM28 22h-8l7.5-18h8L28 22z"/><circle cx="20" cy="8" r="4"/></g>
</svg>
<div class="t" style="left:8.30px;top:7px;font-size:9.6px;color:#131722;font-weight:400;transform:scaleX(0.9903);">Asad11_protrader published on TradingView.com, Jan 25, 2024 22:51 UTC+5</div>
<div class="t" style="left:14.07px;top:29px;font-size:10.8px;color:#131722;font-weight:400;transform:scaleX(0.8636);">Swiss Franc / Japanese Yen, 4h, FXCM</div>
<div class="t" style="left:183.16px;top:29px;font-size:10.8px;color:#131722;font-weight:400;transform:scaleX(0.8800);">O</div>
<div class="t" style="left:189.65px;top:29px;font-size:10.8px;color:#089981;font-weight:400;transform:scaleX(0.8715);">170.356</div>
<div class="t" style="left:228.92px;top:29px;font-size:10.8px;color:#131722;font-weight:400;transform:scaleX(0.8800);">H</div>
<div class="t" style="left:235.95px;top:29px;font-size:10.8px;color:#089981;font-weight:400;transform:scaleX(0.8636);">170.437</div>
<div class="t" style="left:274.62px;top:29px;font-size:10.8px;color:#131722;font-weight:400;transform:scaleX(0.8800);">L</div>
<div class="t" style="left:279.86px;top:29px;font-size:10.8px;color:#089981;font-weight:400;transform:scaleX(0.8583);">169.948</div>
<div class="t" style="left:319.06px;top:29px;font-size:10.8px;color:#131722;font-weight:400;transform:scaleX(0.8800);">C</div>
<div class="t" style="left:325.06px;top:29px;font-size:10.8px;color:#089981;font-weight:400;transform:scaleX(0.8583);">170.436</div>
<div class="t" style="left:364.68px;top:29px;font-size:10.8px;color:#089981;font-weight:400;transform:scaleX(0.8492);">+0.080 (+0.05%)</div>
<div id="cur"></div>
<div class="t" style="left:977.69px;top:31px;font-size:10.2px;color:#1e222d;font-weight:400;transform:scaleX(0.8333);">JPY</div>
<div class="t" style="left:974.21px;top:403px;font-size:10.2px;color:#1e222d;font-weight:400;transform:scaleX(0.9259);">163.000</div>
<div class="t" style="left:974.21px;top:364px;font-size:10.2px;color:#1e222d;font-weight:400;transform:scaleX(0.9259);">164.000</div>
<div class="t" style="left:974.21px;top:325px;font-size:10.2px;color:#1e222d;font-weight:400;transform:scaleX(0.9259);">165.000</div>
<div class="t" style="left:974.21px;top:286px;font-size:10.2px;color:#1e222d;font-weight:400;transform:scaleX(0.9259);">166.000</div>
<div class="t" style="left:974.21px;top:247px;font-size:10.2px;color:#1e222d;font-weight:400;transform:scaleX(0.9259);">167.000</div>
<div class="t" style="left:974.21px;top:207px;font-size:10.2px;color:#1e222d;font-weight:400;transform:scaleX(0.9259);">168.000</div>
<div class="t" style="left:974.21px;top:168px;font-size:10.2px;color:#1e222d;font-weight:400;transform:scaleX(0.9259);">169.000</div>
<div class="t" style="left:974.21px;top:129px;font-size:10.2px;color:#1e222d;font-weight:400;transform:scaleX(0.9259);">170.000</div>
<div class="t" style="left:974.21px;top:90px;font-size:10.2px;color:#1e222d;font-weight:400;transform:scaleX(0.9259);">171.000</div>
<div class="t" style="left:974.21px;top:51px;font-size:10.2px;color:#1e222d;font-weight:400;transform:scaleX(0.9259);">172.000</div>
<div class="tag" style="top:62px;height:13.8px;background:#f44336"></div>
<div class="t" style="left:974.20px;top:64px;font-size:10.2px;color:#fff;font-weight:400;transform:scaleX(0.9324);-webkit-text-stroke:0.3px #fff;">171.667</div>
<div class="tag" style="top:110px;height:24.5px;background:#089981"></div>
<div class="t" style="left:974.20px;top:112px;font-size:10.2px;color:#fff;font-weight:400;transform:scaleX(0.9315);-webkit-text-stroke:0.3px #fff;">170.436</div>
<div class="t" style="left:974.12px;top:124px;font-size:10.2px;color:rgba(255,255,255,0.85);font-weight:400;transform:scaleX(0.9616);-webkit-text-stroke:0.25px rgba(255,255,255,0.8);">08:14</div>
<div class="tag" style="top:134.5px;height:13.7px;background:#2962ff"></div>
<div class="t" style="left:974.21px;top:137px;font-size:10.2px;color:#fff;font-weight:400;transform:scaleX(0.9259);-webkit-text-stroke:0.3px #fff;">170.050</div>
<div class="tag" style="top:148.2px;height:13.4px;background:#787b86"></div>
<div class="t" style="left:974.21px;top:151px;font-size:10.2px;color:#fff;font-weight:400;transform:scaleX(0.9259);-webkit-text-stroke:0.3px #fff;">170.050</div>
<div class="tag" style="top:298.9px;height:13.9px;background:#009688"></div>
<div class="t" style="left:974.21px;top:302px;font-size:10.2px;color:#fff;font-weight:400;transform:scaleX(0.9259);-webkit-text-stroke:0.3px #fff;">165.600</div>
<div class="t" style="left:104.96px;top:418px;font-size:10.2px;color:#1e222d;font-weight:400;transform:scaleX(0.8976);">18</div>
<div class="t" style="left:227.44px;top:418px;font-size:10.2px;color:#1e222d;font-weight:400;transform:scaleX(0.8952);">26</div>
<div class="t" style="left:316.03px;top:418px;font-size:10.2px;color:#1e222d;font-weight:700;transform:scaleX(0.9708);">2024</div>
<div class="t" style="left:418.29px;top:418px;font-size:10.2px;color:#1e222d;font-weight:400;transform:scaleX(0.9263);">8</div>
<div class="t" style="left:538.53px;top:418px;font-size:10.2px;color:#1e222d;font-weight:400;transform:scaleX(0.8976);">15</div>
<div class="t" style="left:660.30px;top:418px;font-size:10.2px;color:#1e222d;font-weight:400;transform:scaleX(0.9171);">22</div>
<div class="t" style="left:784.35px;top:418px;font-size:10.2px;color:#1e222d;font-weight:400;transform:scaleX(0.9171);">29</div>
<div class="t" style="left:853.49px;top:418px;font-size:10.2px;color:#1e222d;font-weight:400;transform:scaleX(0.9600);">Feb</div>
<div class="t" style="left:934.26px;top:418px;font-size:10.2px;color:#1e222d;font-weight:400;transform:scaleX(0.9263);">6</div>
<div class="t" style="left:26.95px;top:443px;font-size:10.3px;color:#2a2e39;font-weight:400;transform:scaleX(0.9876);">TradingView</div>
</body></html>
